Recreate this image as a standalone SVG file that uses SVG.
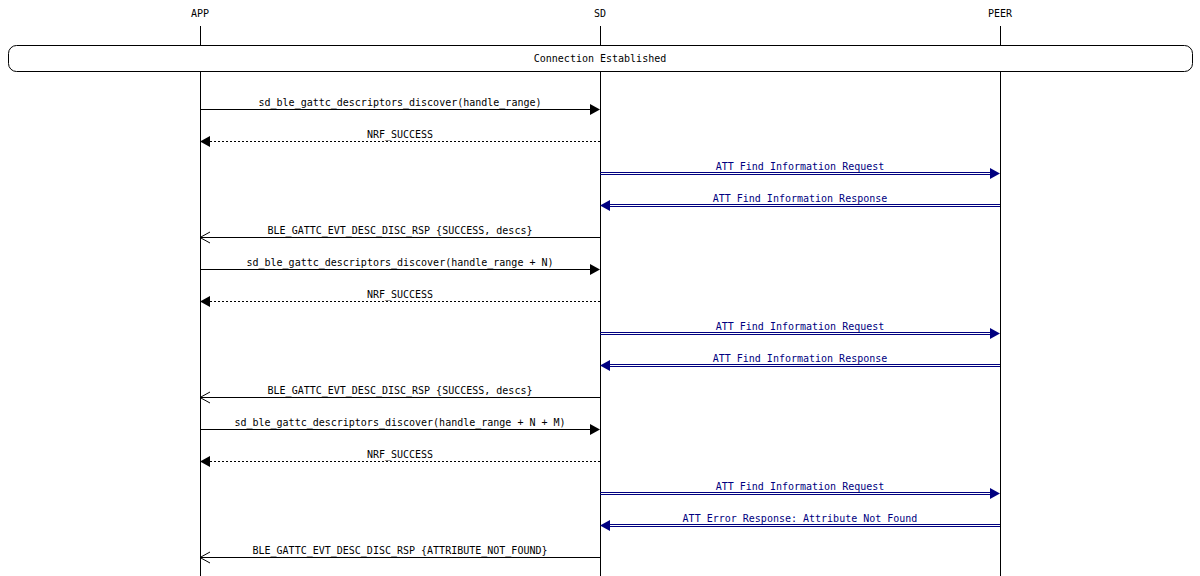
<svg xmlns="http://www.w3.org/2000/svg" width="1200" height="576" viewBox="0 0 1200 576">
<style>
text{font-family:"DejaVu Sans Mono","Liberation Mono",monospace;font-size:10px;text-anchor:middle}
.l{stroke:#000;stroke-width:1;fill:none}
.d{stroke-dasharray:2,2}
.b{stroke:#000080;stroke-width:1;fill:none}
.bt{fill:#000080}
</style>
<rect width="1200" height="576" fill="#fff"/>
<g id="lifelines">
<line class="l" x1="200.5" y1="26" x2="200.5" y2="576"/>
<line class="l" x1="600.5" y1="26" x2="600.5" y2="576"/>
<line class="l" x1="1000.5" y1="26" x2="1000.5" y2="576"/>
</g>
<g id="APP"><text x="200" y="17">APP</text></g>
<g id="SD"><text x="600" y="17">SD</text></g>
<g id="PEER"><text x="1000" y="17">PEER</text></g>
<g id="conn"><rect x="8.5" y="45.5" width="1184" height="26" rx="8" fill="#fff" stroke="#000"/><text x="600" y="62">Connection Established</text></g>
<g id="connectors">
<line class="l" x1="200" y1="109.5" x2="590" y2="109.5"/><polygon points="590,104 600,109.5 590,115"/>
<text x="400" y="106">sd_ble_gattc_descriptors_discover(handle_range)</text>
<line class="l d" x1="210" y1="141.5" x2="600" y2="141.5"/><polygon points="210,136 200,141.5 210,147"/>
<text x="400" y="138">NRF_SUCCESS</text>
<line class="b" x1="600" y1="172.5" x2="990" y2="172.5"/><line class="b" x1="600" y1="174.5" x2="990" y2="174.5"/><polygon class="bt" points="990,168 1000,173.5 990,179"/>
<text class="bt" x="800" y="170">ATT Find Information Request</text>
<line class="b" x1="610" y1="204.5" x2="1000" y2="204.5"/><line class="b" x1="610" y1="206.5" x2="1000" y2="206.5"/><polygon class="bt" points="610,200 600,205.5 610,211"/>
<text class="bt" x="800" y="202">ATT Find Information Response</text>
<line class="l" x1="200" y1="237.5" x2="600" y2="237.5"/><polyline class="l" points="210,232 200,237.5 210,243"/>
<text x="400" y="234">BLE_GATTC_EVT_DESC_DISC_RSP {SUCCESS, descs}</text>

<line class="l" x1="200" y1="269.5" x2="590" y2="269.5"/><polygon points="590,264 600,269.5 590,275"/>
<text x="400" y="266">sd_ble_gattc_descriptors_discover(handle_range + N)</text>
<line class="l d" x1="210" y1="301.5" x2="600" y2="301.5"/><polygon points="210,296 200,301.5 210,307"/>
<text x="400" y="298">NRF_SUCCESS</text>
<line class="b" x1="600" y1="332.5" x2="990" y2="332.5"/><line class="b" x1="600" y1="334.5" x2="990" y2="334.5"/><polygon class="bt" points="990,328 1000,333.5 990,339"/>
<text class="bt" x="800" y="330">ATT Find Information Request</text>
<line class="b" x1="610" y1="364.5" x2="1000" y2="364.5"/><line class="b" x1="610" y1="366.5" x2="1000" y2="366.5"/><polygon class="bt" points="610,360 600,365.5 610,371"/>
<text class="bt" x="800" y="362">ATT Find Information Response</text>
<line class="l" x1="200" y1="397.5" x2="600" y2="397.5"/><polyline class="l" points="210,392 200,397.5 210,403"/>
<text x="400" y="394">BLE_GATTC_EVT_DESC_DISC_RSP {SUCCESS, descs}</text>

<line class="l" x1="200" y1="429.5" x2="590" y2="429.5"/><polygon points="590,424 600,429.5 590,435"/>
<text x="400" y="426">sd_ble_gattc_descriptors_discover(handle_range + N + M)</text>
<line class="l d" x1="210" y1="461.5" x2="600" y2="461.5"/><polygon points="210,456 200,461.5 210,467"/>
<text x="400" y="458">NRF_SUCCESS</text>
<line class="b" x1="600" y1="492.5" x2="990" y2="492.5"/><line class="b" x1="600" y1="494.5" x2="990" y2="494.5"/><polygon class="bt" points="990,488 1000,493.5 990,499"/>
<text class="bt" x="800" y="490">ATT Find Information Request</text>
<line class="b" x1="610" y1="524.5" x2="1000" y2="524.5"/><line class="b" x1="610" y1="526.5" x2="1000" y2="526.5"/><polygon class="bt" points="610,520 600,525.5 610,531"/>
<text class="bt" x="800" y="522">ATT Error Response: Attribute Not Found</text>
<line class="l" x1="200" y1="557.5" x2="600" y2="557.5"/><polyline class="l" points="210,552 200,557.5 210,563"/>
<text x="400" y="554">BLE_GATTC_EVT_DESC_DISC_RSP {ATTRIBUTE_NOT_FOUND}</text>
</g>
</svg>
